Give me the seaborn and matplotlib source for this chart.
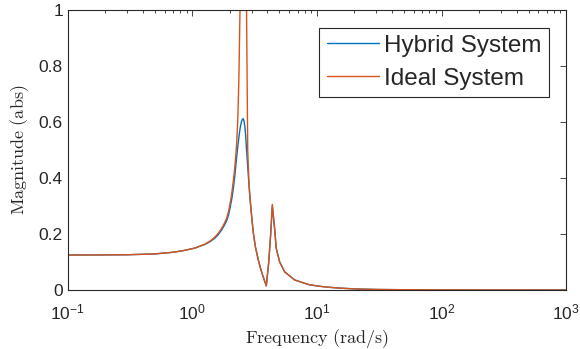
import matplotlib
matplotlib.use("Agg")
import matplotlib.pyplot as plt
import matplotlib.ticker as mticker
import pandas as pd
import seaborn as sns

# frequency grid (rad/s)
freq = [0.1, 0.2, 0.3, 0.5, 0.7, 0.85, 1.05, 1.26, 1.4, 1.52, 1.62, 1.72,
        1.8, 1.88, 1.95, 2.0, 2.07, 2.13, 2.18, 2.22, 2.26, 2.31, 2.36,
        2.41, 2.45, 2.48, 2.52, 2.56, 2.60, 2.64, 2.68, 2.72, 2.78, 2.84,
        2.9, 3.0, 3.08, 3.2, 3.38, 3.5, 3.65, 3.8, 3.92, 4.1, 4.25, 4.38,
        4.57, 4.71, 5.01, 5.5, 6.62, 8.47, 10.2, 12.3, 15, 20, 30, 50, 100,
        300, 1000]

hybrid_mag = [0.125, 0.1255, 0.126, 0.129, 0.135, 0.141, 0.150, 0.163,
              0.174, 0.186, 0.199, 0.215, 0.230, 0.247, 0.268, 0.290,
              0.325, 0.362, 0.400, 0.435, 0.47, 0.51, 0.545, 0.575, 0.592,
              0.602, 0.610, 0.612, 0.603, 0.582, 0.548, 0.50, 0.44, 0.38,
              0.325, 0.255, 0.205, 0.155, 0.107, 0.082, 0.055, 0.032,
              0.015, 0.10, 0.20, 0.30, 0.22, 0.149, 0.101, 0.065, 0.036,
              0.020, 0.014, 0.010, 0.007, 0.004, 0.002, 0.001, 0.0004,
              0.0001, 0.0]

ideal_mag = [0.125, 0.1255, 0.126, 0.129, 0.135, 0.141, 0.150, 0.164,
             0.176, 0.190, 0.204, 0.221, 0.237, 0.256, 0.280, 0.305,
             0.345, 0.390, 0.430, 0.47, 0.515, 0.60, 0.75, 1.0, 1.4,
             1.8, 2.3, 3.0, 2.3, 1.8, 1.3, 1.0, 0.50, 0.39, 0.33, 0.258,
             0.207, 0.156, 0.107, 0.082, 0.055, 0.032, 0.015, 0.10, 0.20,
             0.306, 0.22, 0.149, 0.101, 0.065, 0.036, 0.020, 0.014, 0.010,
             0.007, 0.004, 0.002, 0.001, 0.0004, 0.0001, 0.0]

labels = ['Hybrid System', 'Ideal System']
colors = ['#0072BD', '#D95319']

df = pd.concat([
    pd.DataFrame({'freq': freq, 'mag': hybrid_mag, 'system': labels[0]}),
    pd.DataFrame({'freq': freq, 'mag': ideal_mag, 'system': labels[1]}),
])

sns.set_style('white')
plt.rcParams['font.family'] = ['Liberation Sans', 'DejaVu Sans']
plt.rcParams['axes.edgecolor'] = '#262626'
plt.rcParams['axes.linewidth'] = 0.8

fig = plt.figure(figsize=(5.8, 3.49), dpi=100)
ax = fig.add_axes([0.117, 0.169, 0.859, 0.802])

sns.lineplot(data=df, x='freq', y='mag', hue='system', palette=colors,
             estimator=None, sort=False, linewidth=1.0, ax=ax)

ax.set_xscale('log')
ax.set_xlim(0.1, 1000)
ax.set_ylim(0, 1)
ax.set_yticks([0, 0.2, 0.4, 0.6, 0.8, 1.0])
ax.yaxis.set_major_formatter(mticker.FormatStrFormatter('%g'))
ax.xaxis.set_major_locator(mticker.LogLocator(base=10, numticks=10))
ax.xaxis.set_minor_locator(mticker.LogLocator(base=10, subs=range(2, 10), numticks=20))
ax.xaxis.set_minor_formatter(mticker.NullFormatter())

ax.tick_params(which='both', direction='in', top=True, right=True,
               colors='#262626', labelsize=12.5, width=0.6)
ax.tick_params(which='major', length=4.5)
ax.tick_params(which='minor', length=2.5)
ax.tick_params(axis='x', which='major', pad=9)
for s in ax.spines.values():
    s.set_visible(True)

ax.set_xlabel(r'$\mathrm{Frequency\ (rad/s)}$', fontsize=13,
              math_fontfamily='cm', color='#262626', labelpad=3)
ax.set_ylabel(r'$\mathrm{Magnitude\ (abs)}$', fontsize=13,
              math_fontfamily='cm', color='#262626', labelpad=6)

leg = ax.legend(loc='upper right', fontsize=17.5, frameon=True, fancybox=False,
                edgecolor='#262626', framealpha=1, borderpad=0.3,
                handlelength=2.15, handletextpad=0.2, labelspacing=0.45,
                borderaxespad=0.72)
leg.get_frame().set_linewidth(0.8)

fig.savefig('out.png', dpi=100)
